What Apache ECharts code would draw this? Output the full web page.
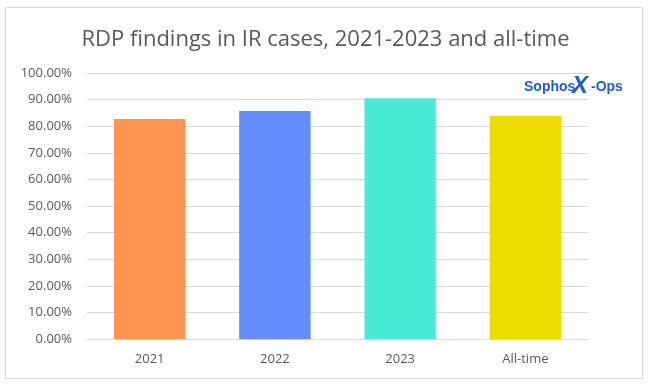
<!DOCTYPE html>
<html><head><meta charset="utf-8">
<script src="https://cdn.jsdelivr.net/npm/echarts@6/dist/echarts.min.js"></script>
<style>html,body{margin:0;padding:0;background:#fff}#c{width:651px;height:385px}</style>
</head><body><div id="c"></div>
<script>
const categories = ['2021', '2022', '2023', 'All-time'];
const values = [0.827, 0.857, 0.905, 0.839];
const barColors = ['#FF9350', '#638CFF', '#48EBD6', '#EEDD00'];
const yTicks = [0, 0.1, 0.2, 0.3, 0.4, 0.5, 0.6, 0.7, 0.8, 0.9, 1.0];

const chart = echarts.init(document.getElementById('c'));
chart.setOption({
  animation: false,
  backgroundColor: '#fff',
  title: {
    text: 'RDP findings in IR cases, 2021-2023 and all-time',
    left: 'center', top: 24,
    textStyle: { fontFamily: 'Open Sans', fontWeight: 'normal', fontSize: 22, color: '#595959' }
  },
  grid: { left: 87, right: 63, top: 73, bottom: 46 },
  xAxis: {
    type: 'category', data: categories,
    axisTick: { show: false },
    axisLine: { lineStyle: { color: '#d9d9d9', width: 1 } },
    axisLabel: { color: '#595959', fontFamily: 'Open Sans', fontSize: 13, margin: 14 }
  },
  yAxis: {
    type: 'value', min: 0, max: 1, interval: 0.1,
    axisLine: { show: false }, axisTick: { show: false },
    splitLine: { lineStyle: { color: '#d9d9d9' } },
    axisLabel: { color: '#595959', fontFamily: 'Open Sans', fontSize: 13, margin: 15,
      formatter: v => (v * 100).toFixed(2) + '%' }
  },
  series: [{
    type: 'bar', barCategoryGap: '43%',
    data: values.map((v, i) => ({ value: v, itemStyle: { color: barColors[i] } }))
  }],
  graphic: [
    { type: 'rect', shape: { x: 5.5, y: 7.5, width: 637, height: 371 }, style: { fill: 'none', stroke: '#d9d9d9', lineWidth: 1 }, z: 100 },
    { type: 'text', left: 524, top: 80, style: { text: 'Sophos', fill: '#1E5BD8', font: 'bold 14px "Liberation Sans", sans-serif' }, z: 100 },
    { type: 'text', left: 572, top: 74, style: { text: 'X', fill: '#1E5BD8', font: 'italic bold 24px "Liberation Sans", sans-serif' }, z: 100 },
    { type: 'text', left: 591, top: 80, style: { text: '-Ops', fill: '#1E5BD8', font: 'bold 14px "Liberation Sans", sans-serif' }, z: 100 }
  ]
});
</script></body></html>
